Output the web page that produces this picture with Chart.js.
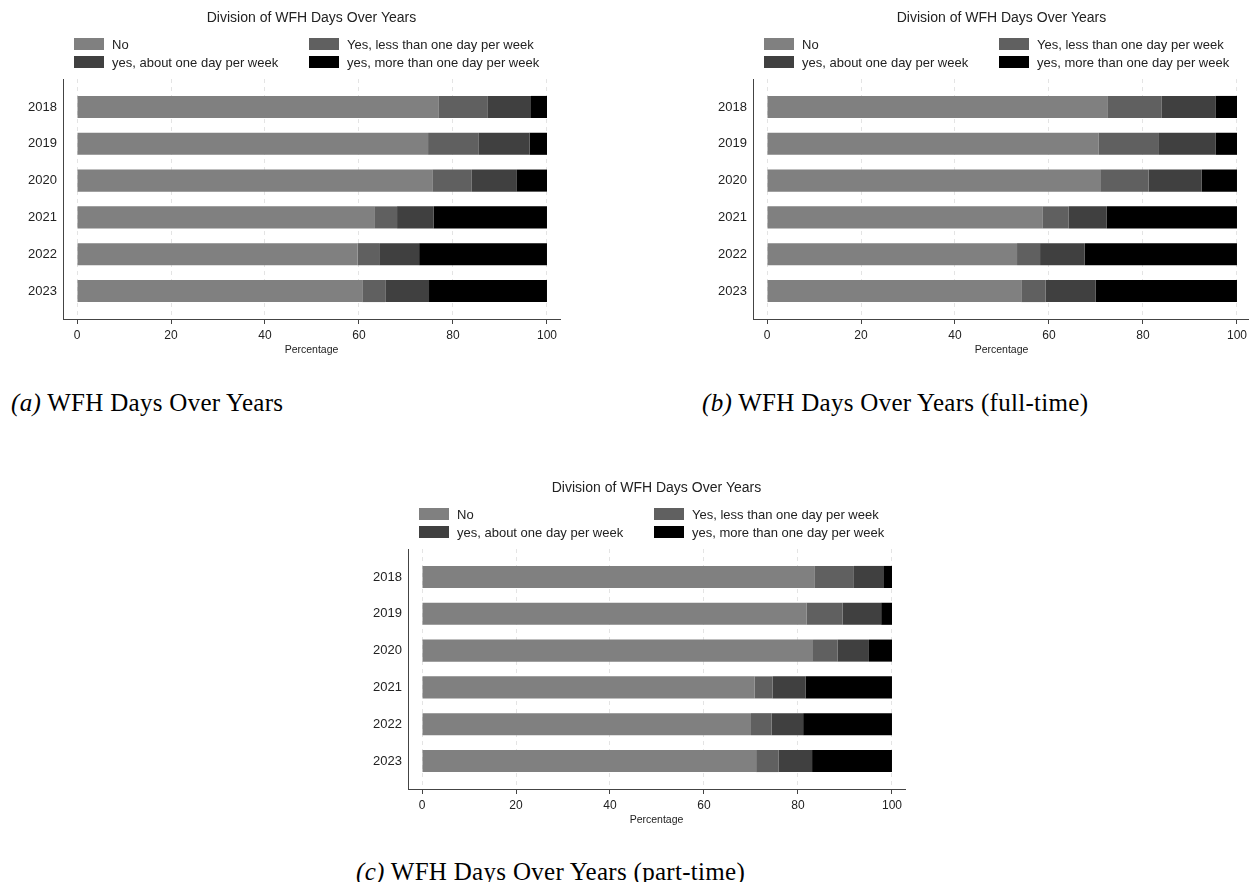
<!DOCTYPE html>
<html><head><meta charset="utf-8">
<script src="https://cdn.jsdelivr.net/npm/chart.js@4.4.1/dist/chart.umd.min.js"></script>
<style>
html,body{margin:0;padding:0;background:#fff;overflow:hidden;width:1249px;height:882px;position:relative;}
.panel{position:absolute;width:580px;height:360px;}
.panel canvas{position:absolute;left:0;top:0;}
.item{position:absolute;white-space:nowrap;height:12px;font:13px "Liberation Sans",Arial,sans-serif;color:#222;}
.sw{position:absolute;left:0;top:0;width:30px;height:12px;}
.lbl{position:absolute;left:38px;top:-1px;line-height:16px;}
.caption{position:absolute;font-family:"Liberation Serif","Times New Roman",serif;font-size:25px;letter-spacing:0.3px;line-height:26px;color:#000;white-space:nowrap;}
.caption i{font-style:italic;}
</style></head><body>
<script>
// ---- data ----
const years = [2018, 2019, 2020, 2021, 2022, 2023];
const xTicks = [0, 20, 40, 60, 80, 100];
const seriesNames = ["No", "Yes, less than one day per week", "yes, about one day per week", "yes, more than one day per week"];
const seriesColors = ["#808080", "#606060", "#404040", "#000000"];
const chartTitle = "Division of WFH Days Over Years";
const xTitle = "Percentage";

// (a) all workers
const allNo    = [77.0, 74.7, 75.6, 63.4, 59.7, 60.7];
const allLess  = [10.3, 10.8,  8.4,  4.7,  4.6,  4.9];
const allAbout = [ 9.3, 10.8,  9.6,  7.8,  8.5,  9.3];
const allMore  = [ 3.4,  3.7,  6.4, 24.1, 27.2, 25.1];
// (b) full-time
const ftNo    = [72.4, 70.6, 70.9, 58.7, 53.2, 54.1];
const ftLess  = [11.6, 12.8, 10.3,  5.5,  4.9,  5.2];
const ftAbout = [11.4, 12.1, 11.3,  8.1,  9.5, 10.6];
const ftMore  = [ 4.6,  4.5,  7.5, 27.7, 32.4, 30.1];
// (c) part-time
const ptNo    = [83.6, 81.8, 83.2, 70.8, 70.0, 71.1];
const ptLess  = [ 8.3,  7.7,  5.2,  3.8,  4.4,  4.8];
const ptAbout = [ 6.4,  8.2,  6.7,  7.0,  6.7,  7.1];
const ptMore  = [ 1.7,  2.3,  4.9, 18.4, 18.9, 17.0];

const captions = [
  ["(a)", "WFH Days Over Years"],
  ["(b)", "WFH Days Over Years (full-time)"],
  ["(c)", "WFH Days Over Years (part-time)"]
];

// ---- layout ----
const panels = [
  {left: 0,   top: 0,   series: [allNo, allLess, allAbout, allMore], cap: captions[0], capX: 11,  capY: 403},
  {left: 690, top: 0,   series: [ftNo, ftLess, ftAbout, ftMore],     cap: captions[1], capX: 702, capY: 403},
  {left: 345, top: 470, series: [ptNo, ptLess, ptAbout, ptMore],     cap: captions[2], capX: 356, capY: 872}
];

Chart.defaults.font.family = '"Liberation Sans", Arial, sans-serif';
Chart.defaults.color = '#222';

const legendPos = [[74, 38], [309, 38], [74, 56], [309, 56]];

panels.forEach((p, idx) => {
  const div = document.createElement('div');
  div.className = 'panel';
  div.style.left = p.left + 'px';
  div.style.top = p.top + 'px';
  const cv = document.createElement('canvas');
  cv.width = 580; cv.height = 360;
  cv.style.width = '580px'; cv.style.height = '360px';
  div.appendChild(cv);
  // legend
  seriesNames.forEach((name, k) => {
    const it = document.createElement('div');
    it.className = 'item';
    it.style.left = legendPos[k][0] + 'px';
    it.style.top = legendPos[k][1] + 'px';
    const sw = document.createElement('div');
    sw.className = 'sw'; sw.style.background = seriesColors[k];
    const lb = document.createElement('div');
    lb.className = 'lbl'; lb.textContent = name;
    it.appendChild(sw); it.appendChild(lb);
    div.appendChild(it);
  });
  document.body.appendChild(div);

  const cap = document.createElement('div');
  cap.className = 'caption';
  cap.style.left = p.capX + 'px';
  cap.style.top = (p.capY - 13) + 'px';
  const ii = document.createElement('i'); ii.textContent = p.cap[0];
  cap.appendChild(ii);
  cap.appendChild(document.createTextNode(' ' + p.cap[1]));
  document.body.appendChild(cap);

  new Chart(cv, {
    type: 'bar',
    data: {
      datasets: p.series.map((vals, k) => ({
        label: seriesNames[k],
        data: vals.map((v, i) => ({x: v, y: years[i]})),
        backgroundColor: seriesColors[k],
        borderWidth: 0,
        categoryPercentage: 1,
        barPercentage: 0.6
      }))
    },
    options: {
      indexAxis: 'y',
      responsive: false,
      animation: false,
      devicePixelRatio: 1,
      layout: {padding: {left: 0, right: 20, top: 0, bottom: 0}},
      plugins: {
        legend: {display: false},
        tooltip: {enabled: false},
        title: {
          display: true, text: chartTitle, fullSize: false,
          font: {size: 14, weight: 'normal'}, color: '#222',
          padding: {top: 10, bottom: 52.2}
        }
      },
      scales: {
        x: {
          type: 'linear', stacked: true,
          min: -2.98, max: 102.77,
          afterBuildTicks: s => { s.ticks = xTicks.map(v => ({value: v})); },
          afterFit: s => { s.height = 41; },
          ticks: {font: {size: 12}, padding: 4, color: '#222', callback: v => String(v)},
          grid: {display: true, color: '#e4e4e4', lineWidth: 1, drawTicks: true, tickLength: 5, tickColor: '#444', tickWidth: 1},
          border: {display: true, color: '#444', width: 1, dash: [4, 4]},
          title: {display: true, text: xTitle, font: {size: 10.5}, color: '#222', padding: {top: 0, bottom: 4}}
        },
        y: {
          type: 'linear', stacked: true, reverse: true, offset: false,
          min: 2017.24, max: 2023.76,
          afterBuildTicks: s => { s.ticks = years.map(v => ({value: v})); },
          afterFit: s => { s.width = 63; },
          ticks: {font: {size: 13}, padding: 6, color: '#222', callback: v => String(v)},
          grid: {display: false, drawTicks: false, offset: false},
          border: {display: true, color: '#444', width: 1}
        }
      }
    }
  });
});
</script>
</body></html>
